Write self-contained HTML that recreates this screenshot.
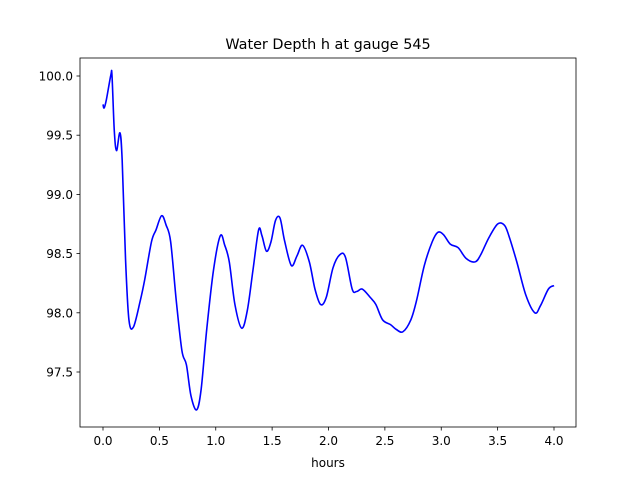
<!DOCTYPE html>
<html><head><meta charset="utf-8"><style>
body{margin:0;background:#fff;}
svg{display:block;font-family:"DejaVu Sans","Liberation Sans",sans-serif;}
</style></head><body>
<svg id="chart" width="640" height="480">
<rect x="0" y="0" width="640" height="480" fill="#fff"/>
<text x="328" y="49" text-anchor="middle" font-size="14.4">Water Depth h at gauge 545</text>
<g id="xt"></g>
<g id="yt"></g>
<path id="line" fill="none" stroke="#0000ff" stroke-width="1.6" stroke-linejoin="round"/>
<rect x="80" y="58" width="496" height="369" fill="none" stroke="#000" stroke-width="0.8"/>
<text x="328" y="467" text-anchor="middle" font-size="12">hours</text>
</svg>
<script>
const times=[0,0.01,0.03,0.07,0.08,0.1,0.12,0.15,0.17,0.2,0.23,0.27,0.33,0.37,0.43,0.47,0.52,0.56,0.6,0.65,0.7,0.74,0.78,0.83,0.87,0.92,0.98,1.04,1.08,1.12,1.17,1.23,1.28,1.33,1.38,1.41,1.45,1.49,1.53,1.57,1.61,1.67,1.72,1.77,1.83,1.88,1.93,1.98,2.04,2.1,2.15,2.21,2.25,2.3,2.37,2.42,2.48,2.55,2.6,2.66,2.73,2.78,2.85,2.92,2.97,3.02,3.08,3.15,3.22,3.3,3.35,3.42,3.5,3.56,3.6,3.67,3.75,3.83,3.88,3.95,4.0];
const depths=[99.76,99.73,99.8,100.01,100.0,99.54,99.37,99.52,99.29,98.45,97.94,97.88,98.1,98.28,98.6,98.7,98.82,98.74,98.6,98.1,97.68,97.56,97.3,97.18,97.35,97.86,98.36,98.65,98.57,98.43,98.07,97.87,98.02,98.36,98.7,98.65,98.52,98.6,98.78,98.8,98.61,98.4,98.48,98.57,98.43,98.2,98.07,98.13,98.38,98.49,98.47,98.2,98.18,98.2,98.13,98.07,97.94,97.9,97.86,97.84,97.94,98.1,98.4,98.6,98.68,98.66,98.58,98.55,98.46,98.43,98.49,98.63,98.75,98.74,98.65,98.43,98.15,98.0,98.06,98.2,98.23];
const xTicks=[0,0.5,1,1.5,2,2.5,3,3.5,4];
const yTicks=[97.5,98,98.5,99,99.5,100];
const xs=t=>103+112.75*t, ys=v=>76+(100-v)*118.4;
const NS="http://www.w3.org/2000/svg";
const xt=document.getElementById('xt'), yt=document.getElementById('yt');
xTicks.forEach(t=>{
 const l=document.createElementNS(NS,'line');
 
 
 l.setAttribute('x1',xs(t));l.setAttribute('x2',xs(t));l.setAttribute('y1',427);l.setAttribute('y2',430.5);l.setAttribute('stroke','#000');l.setAttribute('stroke-width','0.8');xt.appendChild(l);
 const s=document.createElementNS(NS,'text');
 
 
 s.setAttribute('x',xs(t));s.setAttribute('y',445);s.setAttribute('text-anchor','middle');s.setAttribute('font-size','12');s.textContent=t.toFixed(1);xt.appendChild(s);
});
yTicks.forEach(v=>{
 const l=document.createElementNS(NS,'line');
 
 
 l.setAttribute('x1',76.5);l.setAttribute('x2',80);l.setAttribute('y1',ys(v));l.setAttribute('y2',ys(v));l.setAttribute('stroke','#000');l.setAttribute('stroke-width','0.8');yt.appendChild(l);
 const s=document.createElementNS(NS,'text');
 
 
 s.setAttribute('x',73);s.setAttribute('y',ys(v)+4.5);s.setAttribute('text-anchor','end');s.setAttribute('font-size','12');s.textContent=v.toFixed(1);yt.appendChild(s);
});
const P=times.map((t,i)=>[xs(t),ys(depths[i])]);
let d='M'+P[0][0]+','+P[0][1];
for(let i=0;i<P.length-1;i++){
 const p0=P[Math.max(0,i-1)],p1=P[i],p2=P[i+1],p3=P[Math.min(P.length-1,i+2)];
 const c1=[p1[0]+(p2[0]-p0[0])/6,p1[1]+(p2[1]-p0[1])/6];
 const c2=[p2[0]-(p3[0]-p1[0])/6,p2[1]-(p3[1]-p1[1])/6];
 d+=' C'+c1+' '+c2+' '+p2;
}
document.getElementById('line').setAttribute('d',d);
</script>
</body></html>
